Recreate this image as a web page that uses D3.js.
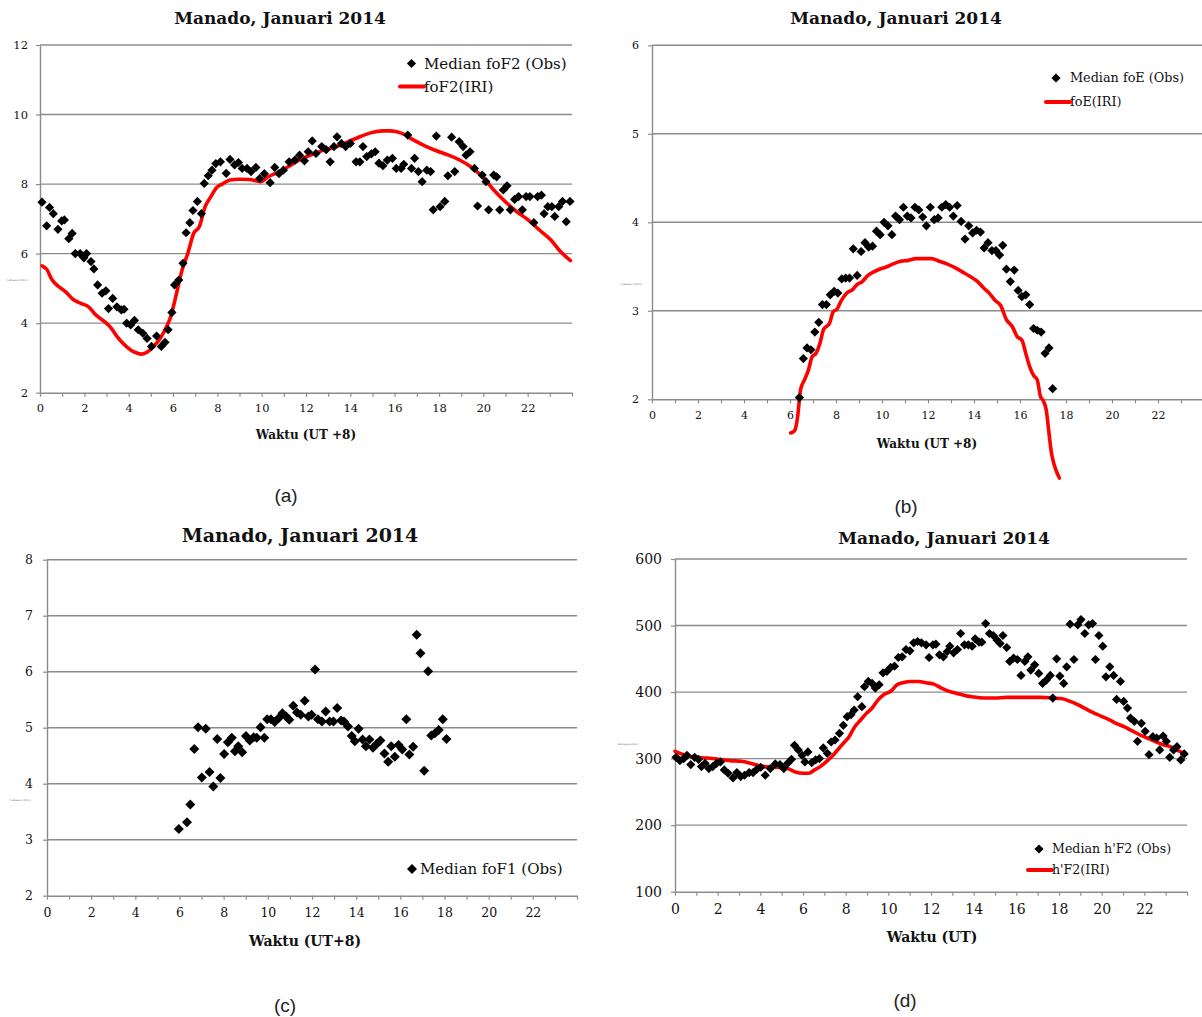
<!DOCTYPE html>
<html>
<head>
<meta charset="utf-8">
<script src="https://cdn.jsdelivr.net/npm/d3@7"></script>
<style>
  body { margin: 0; background: #fff; }
</style>
</head>
<body>
<div id="chart"></div>
<script>
// ---- data ----
const xLabels = [0, 2, 4, 6, 8, 10, 12, 14, 16, 18, 20, 22]

// (a) foF2
const aHours = [0.09,0.3,0.43,0.6,0.81,0.98,1.1,1.3,1.45,1.59,1.81,1.98,2.1,2.3,2.43,2.6,2.8,2.97,3.09,3.28,3.47,3.67,3.79,3.91,4.09,4.26,4.43,4.64,4.83,5.03,5.26,5.47,5.64,5.78,5.95,6.07,6.26,6.45,6.59,6.76,6.9,7.1,7.28,7.41,7.59,7.76,7.93,8.14,8.4,8.57,8.78,8.95,9.12,9.34,9.52,9.74,9.91,10.12,10.38,10.59,10.78,10.98,11.24,11.5,11.71,11.93,12.1,12.28,12.45,12.71,12.91,13.09,13.26,13.4,13.6,13.79,14.0,14.26,14.43,14.57,14.74,14.95,15.12,15.29,15.47,15.67,15.9,16.07,16.29,16.41,16.59,16.76,16.9,17.07,17.24,17.45,17.62,17.74,17.88,18.05,18.26,18.4,18.57,18.71,18.91,19.09,19.22,19.4,19.6,19.74,19.95,20.12,20.24,20.47,20.6,20.74,20.9,21.07,21.22,21.41,21.59,21.76,21.93,22.1,22.28,22.45,22.62,22.74,22.91,23.09,23.22,23.4,23.57,23.74,23.91]
const aObs = [7.48,6.8,7.33,7.15,6.7,6.94,6.97,6.43,6.58,6.0,6.0,5.88,6.0,5.77,5.56,5.1,4.86,4.93,4.42,4.71,4.47,4.38,4.4,4.0,3.95,4.08,3.81,3.71,3.56,3.33,3.63,3.33,3.45,3.81,4.31,5.1,5.24,5.72,6.6,6.89,7.24,7.5,7.15,8.02,8.24,8.4,8.59,8.64,8.31,8.71,8.55,8.62,8.45,8.45,8.36,8.48,8.16,8.3,8.04,8.48,8.3,8.4,8.64,8.69,8.83,8.67,8.93,9.24,8.88,9.08,8.99,8.64,9.08,9.36,9.17,9.08,9.17,8.64,8.64,9.08,8.79,8.87,8.93,8.6,8.53,8.69,8.74,8.45,8.45,8.57,9.41,8.45,8.74,8.36,8.07,8.4,8.36,7.26,9.38,7.35,7.5,8.24,9.35,8.36,9.22,9.08,8.83,8.93,8.45,7.37,8.26,8.07,7.26,8.26,8.21,7.26,7.83,7.95,7.26,7.56,7.64,7.26,7.64,7.64,6.89,7.64,7.68,7.15,7.35,7.35,7.07,7.35,7.5,6.92,7.5]
const aIriHours = [0.09,0.3,0.55,0.81,1.16,1.5,1.84,2.19,2.53,2.88,3.22,3.48,3.74,4.09,4.34,4.6,4.86,5.12,5.38,5.64,5.9,6.16,6.41,6.67,6.93,7.19,7.45,7.71,7.97,8.22,8.57,9.0,9.43,9.95,10.29,10.81,11.33,11.84,12.36,12.88,13.4,13.91,14.43,14.95,15.47,15.81,16.33,16.84,17.36,17.88,18.4,18.91,19.43,19.95,20.47,20.98,21.5,22.02,22.53,23.05,23.48,23.93]
const aIri = [5.65,5.55,5.24,5.07,4.9,4.68,4.57,4.47,4.23,4.06,3.85,3.61,3.42,3.23,3.15,3.11,3.18,3.33,3.52,3.81,4.19,4.86,5.53,6.01,6.58,6.78,7.35,7.64,7.9,8.0,8.12,8.14,8.13,8.07,8.21,8.36,8.55,8.74,8.87,8.99,9.08,9.22,9.36,9.48,9.53,9.53,9.46,9.27,9.1,8.96,8.84,8.7,8.5,8.22,7.83,7.5,7.21,6.97,6.68,6.39,6.06,5.8]

// (b) foE
const bHours = [6.41,6.58,6.74,6.91,7.08,7.25,7.41,7.58,7.75,7.92,8.08,8.25,8.42,8.59,8.75,8.92,9.09,9.26,9.42,9.59,9.76,9.92,10.09,10.26,10.43,10.59,10.76,10.93,11.1,11.26,11.43,11.6,11.77,11.93,12.1,12.27,12.44,12.6,12.77,12.94,13.1,13.27,13.44,13.61,13.77,13.94,14.11,14.28,14.44,14.61,14.78,14.95,15.11,15.25,15.41,15.58,15.75,15.92,16.08,16.25,16.42,16.59,16.75,16.92,17.09,17.26,17.42]
const bObs = [2.02,2.46,2.58,2.56,2.76,2.87,3.07,3.07,3.18,3.22,3.2,3.36,3.37,3.37,3.7,3.4,3.67,3.77,3.72,3.73,3.9,3.86,4.0,3.96,3.86,4.07,4.03,4.17,4.07,4.05,4.17,4.14,4.06,3.96,4.17,4.03,4.05,4.17,4.2,4.17,4.07,4.19,4.01,3.81,3.96,3.88,3.91,3.89,3.71,3.77,3.68,3.68,3.63,3.74,3.47,3.33,3.46,3.23,3.16,3.18,3.07,2.8,2.78,2.76,2.52,2.58,2.12]
const bIriHours = [6.03,6.21,6.33,6.46,6.63,6.8,6.96,7.13,7.3,7.46,7.72,7.88,8.05,8.22,8.47,8.72,8.89,9.14,9.39,9.64,9.89,10.14,10.48,10.81,11.15,11.48,11.82,12.15,12.49,12.82,13.15,13.49,13.82,14.16,14.41,14.66,14.91,15.16,15.41,15.67,15.87,16.08,16.25,16.42,16.59,16.75,16.89,17.0,17.14,17.26,17.37,17.51,17.71]
const bIri = [1.62,1.65,1.8,2.11,2.22,2.33,2.48,2.52,2.63,2.79,2.86,2.99,3.02,3.11,3.2,3.24,3.29,3.33,3.4,3.44,3.47,3.49,3.53,3.56,3.57,3.59,3.59,3.59,3.56,3.53,3.49,3.44,3.39,3.33,3.26,3.2,3.12,3.06,2.9,2.82,2.71,2.67,2.52,2.37,2.27,2.22,2.03,1.99,1.88,1.62,1.39,1.24,1.11]

// (c) foF1
const cHours = [5.97,6.34,6.49,6.67,6.84,7.01,7.19,7.36,7.53,7.71,7.85,8.02,8.19,8.37,8.51,8.66,8.84,9.01,9.18,9.36,9.5,9.67,9.84,9.97,10.14,10.31,10.49,10.66,10.83,10.97,11.15,11.32,11.49,11.67,11.84,11.98,12.14,12.27,12.45,12.62,12.8,12.97,13.14,13.32,13.45,13.63,13.8,13.94,14.11,14.29,14.44,14.6,14.76,14.93,15.1,15.28,15.45,15.59,15.75,15.92,16.09,16.27,16.41,16.58,16.74,16.91,17.08,17.26,17.4,17.57,17.74,17.92,18.09]
const cObs = [3.19,3.31,3.63,4.62,5.01,4.11,4.98,4.21,3.95,4.8,4.1,4.53,4.74,4.82,4.58,4.67,4.56,4.85,4.77,4.83,4.82,5.01,4.82,5.15,5.15,5.1,5.17,5.26,5.2,5.14,5.39,5.27,5.23,5.48,5.2,5.23,6.04,5.15,5.11,5.29,5.11,5.11,5.35,5.13,5.11,5.02,4.85,4.76,4.98,4.79,4.67,4.79,4.64,4.71,4.77,4.54,4.39,4.67,4.48,4.69,4.61,5.15,4.52,4.66,6.66,6.33,4.23,6.01,4.86,4.9,4.96,5.15,4.8]

// (d) h'F2
const dHours = [0.05,0.23,0.41,0.56,0.74,0.92,1.1,1.24,1.41,1.59,1.77,1.95,2.13,2.31,2.49,2.72,2.9,3.08,3.26,3.48,3.66,3.84,4.02,4.23,4.47,4.7,4.92,5.1,5.28,5.46,5.6,5.78,5.96,6.09,6.23,6.41,6.59,6.77,6.95,7.14,7.32,7.5,7.71,7.89,8.07,8.25,8.4,8.56,8.76,8.88,9.06,9.24,9.39,9.57,9.75,9.93,10.11,10.29,10.47,10.65,10.83,11.01,11.19,11.37,11.55,11.77,11.91,12.09,12.23,12.4,12.58,12.76,12.88,13.06,13.24,13.39,13.57,13.75,13.93,14.07,14.25,14.38,14.56,14.74,14.92,15.1,15.24,15.37,15.55,15.69,15.87,16.05,16.22,16.4,16.54,16.68,16.86,17.05,17.23,17.41,17.59,17.71,17.89,18.04,18.22,18.36,18.52,18.7,18.88,19.03,19.21,19.39,19.57,19.71,19.87,20.05,20.2,20.38,20.56,20.7,20.88,21.03,21.21,21.35,21.53,21.68,21.86,22.04,22.22,22.4,22.58,22.72,22.88,23.03,23.19,23.37,23.53,23.71,23.87]
const dObs = [302,297,300,305,291,302,299,288,293,285,288,293,295,283,278,271,279,273,275,279,279,284,287,275,285,292,291,285,293,299,320,313,305,295,310,294,298,300,316,308,325,328,338,350,363,366,373,393,378,408,416,413,406,411,429,431,437,439,452,453,464,462,474,476,474,471,452,471,472,456,453,461,469,459,464,488,471,471,469,480,475,475,503,488,485,478,473,485,467,446,451,449,425,446,453,433,441,428,413,418,425,391,450,424,413,438,502,449,501,509,488,501,503,449,485,469,423,438,425,389,416,386,376,361,356,326,353,341,306,333,331,313,334,326,302,313,318,298,307]
const dIriHours = [0,0.41,0.95,1.5,2.04,2.58,3.12,3.66,4.2,4.74,5.28,5.64,6.0,6.27,6.54,6.81,7.08,7.35,7.62,7.89,8.16,8.43,8.7,8.97,9.24,9.51,9.78,10.14,10.41,10.68,11.05,11.41,11.77,12.13,12.49,12.85,13.21,13.57,13.93,14.47,15.01,15.55,16.09,16.63,17.17,17.71,18.16,18.52,18.88,19.24,19.6,19.96,20.32,20.68,21.05,21.41,21.77,22.13,22.49,22.85,23.21,23.57,23.93]
const dIri = [311,306,302,301,299,297,296,292,288,287,285,280,278,278,283,288,295,303,313,323,333,348,358,368,376,388,396,402,411,414,416,416,414,412,406,401,398,395,393,391,391,392,392,392,392,391,390,386,381,375,369,364,359,353,348,342,336,331,326,321,318,312,308]

// ---- drawing ----
const serif = "'DejaVu Serif', serif"
const gridColor = '#8c8c8c'
const diamond = (r) => `M0,${-r}L${r},0L0,${r}L${-r},0Z`

const svg = d3.select('#chart').append('svg').attr('width', 1202).attr('height', 1017)
svg.append('rect').attr('width', 1202).attr('height', 1017).attr('fill', '#fff')

function drawPanel(p) {
  const x = d3.scaleLinear().domain([0, 24]).range([p.left, p.right])
  const y = d3.scaleLinear().domain(p.yDomain).range([p.bottom, p.top])
  const g = svg.append('g')

  // horizontal gridlines
  g.append('g')
    .selectAll('line')
    .data(p.yTicks.slice(1))
    .join('line')
    .attr('x1', p.left)
    .attr('x2', p.right)
    .attr('y1', (d) => y(d))
    .attr('y2', (d) => y(d))
    .attr('stroke', gridColor)
    .attr('stroke-width', 1.4)

  const yAxis = g
    .append('g')
    .attr('transform', `translate(${p.left},0)`)
    .call(
      d3
        .axisLeft(y)
        .tickValues(p.yTicks)
        .tickSize(4)
        .tickSizeOuter(0)
        .tickPadding(p.yPad)
        .tickFormat(d3.format('d'))
    )

  const xAxis = g
    .append('g')
    .attr('transform', `translate(0,${p.bottom})`)
    .call(
      d3
        .axisBottom(x)
        .tickValues(d3.range(0, 25))
        .tickSize(4)
        .tickSizeOuter(0)
        .tickPadding(p.xPad)
        .tickFormat((d) => (xLabels.includes(d) ? d : ''))
    )

  ;[yAxis, xAxis].forEach((a) => {
    a.attr('font-family', serif).attr('font-size', p.tickFont).attr('color', gridColor)
    a.select('.domain').attr('stroke-width', 1.4)
    a.selectAll('.tick line').attr('stroke-width', 1.2)
    a.selectAll('text').attr('fill', '#111')
  })

  // IRI model line
  if (p.iri) {
    g.append('path')
      .datum(d3.zip(p.iri[0], p.iri[1]))
      .attr('fill', 'none')
      .attr('stroke', '#ff0000')
      .attr('stroke-width', 3.6)
      .attr('stroke-linejoin', 'round')
      .attr('stroke-linecap', 'round')
      .attr(
        'd',
        d3
          .line()
          .x((d) => x(d[0]))
          .y((d) => y(d[1]))
          .curve(d3.curveMonotoneX)
      )
  }

  // observed medians
  g.append('g')
    .selectAll('path')
    .data(d3.zip(p.obs[0], p.obs[1]))
    .join('path')
    .attr('transform', (d) => `translate(${x(d[0])},${y(d[1])})`)
    .attr('d', diamond(p.r))
    .attr('fill', '#000')

  // title
  g.append('text')
    .attr('x', p.title[0])
    .attr('y', p.title[1])
    .attr('text-anchor', 'middle')
    .attr('font-family', serif)
    .attr('font-weight', 'bold')
    .attr('font-size', p.title[2])
    .attr('fill', '#111')
    .text('Manado, Januari 2014')

  // x label
  g.append('text')
    .attr('x', p.xTitle[0])
    .attr('y', p.xTitle[1])
    .attr('text-anchor', 'middle')
    .attr('font-family', serif)
    .attr('font-weight', 'bold')
    .attr('font-size', p.xTitle[2])
    .attr('fill', '#111')
    .text(p.xTitle[3])

  // tiny y title (unreadable in the original)
  g.append('text')
    .attr('x', p.yTitle[0])
    .attr('y', p.yTitle[1])
    .attr('text-anchor', 'middle')
    .attr('font-family', serif)
    .attr('font-size', 2.5)
    .attr('fill', '#555')
    .text(p.yTitle[2])

  // legend
  const lg = g.append('g').attr('font-family', serif).attr('font-size', p.legFont).attr('fill', '#111')
  const L = p.legend
  lg.append('path').attr('transform', `translate(${L.dx},${L.dy})`).attr('d', diamond(p.r)).attr('fill', '#000')
  lg.append('text').attr('x', L.tx).attr('y', L.dy).attr('dy', '0.35em').text(L.obsText)
  if (L.lineText) {
    lg.append('line')
      .attr('x1', L.lx1)
      .attr('x2', L.tx)
      .attr('y1', L.ly)
      .attr('y2', L.ly)
      .attr('stroke', '#ff0000')
      .attr('stroke-width', 4)
      .attr('stroke-linecap', 'round')
    lg.append('text').attr('x', L.tx).attr('y', L.ly).attr('dy', '0.35em').text(L.lineText)
  }

  // panel letter
  svg.append('text')
    .attr('x', p.letter[0])
    .attr('y', p.letter[1])
    .attr('text-anchor', 'middle')
    .attr('font-family', "'Liberation Sans', Arial, sans-serif")
    .attr('font-size', 19)
    .attr('fill', '#222')
    .text(p.letter[2])
}

drawPanel({
  left: 40, right: 572, top: 45, bottom: 392.7,
  yDomain: [2, 12], yTicks: [2, 4, 6, 8, 10, 12],
  yPad: 8, xPad: 7, tickFont: 11.5, r: 4.6,
  obs: [aHours, aObs], iri: [aIriHours, aIri],
  title: [280, 24, 17], xTitle: [306, 439, 12, 'Waktu (UT +8)'],
  yTitle: [17, 281, 'Frekuensi (MHz)'],
  legFont: 15,
  legend: { dx: 411.5, dy: 63.5, tx: 424, obsText: 'Median foF2 (Obs)', lx1: 400, ly: 86.5, lineText: 'foF2(IRI)' },
  letter: [286, 502, '(a)'],
})

drawPanel({
  left: 652, right: 1204, top: 45.3, bottom: 399.3,
  yDomain: [2, 6], yTicks: [2, 3, 4, 5, 6],
  yPad: 9, xPad: 8, tickFont: 11, r: 4.6,
  obs: [bHours, bObs], iri: [bIriHours, bIri],
  title: [896, 24, 17], xTitle: [927, 448, 12, 'Waktu (UT +8)'],
  yTitle: [631, 285, 'Frekuensi (MHz)'],
  legFont: 12.8,
  legend: { dx: 1056, dy: 78, tx: 1070, obsText: 'Median foE (Obs)', lx1: 1046, ly: 102, lineText: 'foE(IRI)' },
  letter: [906, 513, '(b)'],
})

drawPanel({
  left: 47, right: 577, top: 559.7, bottom: 895.7,
  yDomain: [2, 8], yTicks: [2, 3, 4, 5, 6, 7, 8],
  yPad: 10, xPad: 8, tickFont: 12.5, r: 5,
  obs: [cHours, cObs], iri: null,
  title: [300, 542, 19], xTitle: [305, 946, 14, 'Waktu (UT+8)'],
  yTitle: [20, 801, 'Frekuensi (MHz)'],
  legFont: 15,
  legend: { dx: 412, dy: 869, tx: 420, obsText: 'Median foF1 (Obs)' },
  letter: [285, 1012, '(c)'],
})

drawPanel({
  left: 675, right: 1187, top: 559, bottom: 891.7,
  yDomain: [100, 600], yTicks: [100, 200, 300, 400, 500, 600],
  yPad: 9, xPad: 8, tickFont: 14, r: 4.6,
  obs: [dHours, dObs], iri: [dIriHours, dIri],
  title: [944, 544, 17], xTitle: [932, 942, 14, 'Waktu (UT)'],
  yTitle: [628, 745, 'Ketinggian (km)'],
  legFont: 12.6,
  legend: { dx: 1039, dy: 849, tx: 1052, obsText: "Median h'F2 (Obs)", lx1: 1028, ly: 870, lineText: "h'F2(IRI)" },
  letter: [905, 1007, '(d)'],
})
</script>
</body>
</html>
